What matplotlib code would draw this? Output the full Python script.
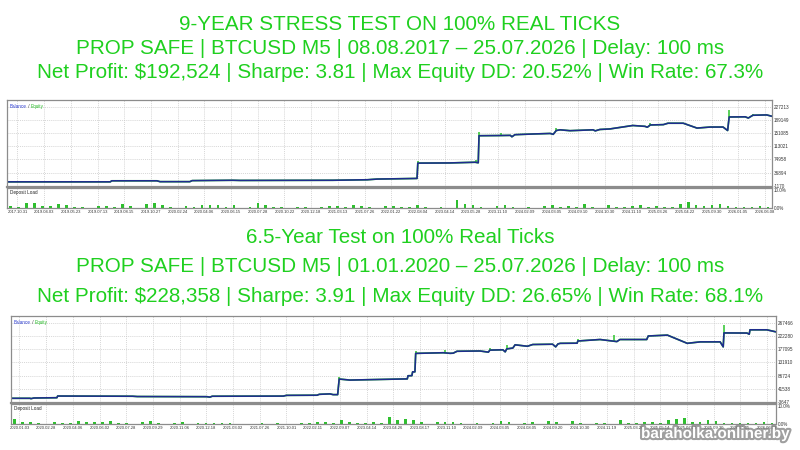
import numpy as np
import matplotlib.pyplot as plt
import matplotlib.patheffects as pe

plt.rcParams['font.family'] = ['Liberation Sans', 'DejaVu Sans']

TXT_GREEN = '#1fd01f'
BAL_C = '#1f2b8f'
EQ_C = '#2cc42c'
LOAD_C = '#2fbf2f'
GRID_C = '#c8c8c8'
FRAME_C = '#8c8c8c'

# ---------- 9-year test ----------
head1 = ["9-YEAR STRESS TEST ON 100% REAL TICKS",
         "PROP SAFE | BTCUSD M5 | 08.08.2017 \u2013 25.07.2026 | Delay: 100 ms",
         "Net Profit: $192,524 | Sharpe: 3.81 | Max Equity DD: 20.52% | Win Rate: 67.3%"]
prog1 = [0, 13.5, 13.7, 19.6, 20, 23.9, 24.2, 29.5, 30.5, 42.6, 47.1, 48.4, 51.4, 53.6, 53.7,
         57.9, 61.2, 61.6, 61.7, 64.4, 65.8, 66.0, 66.4, 68.8, 71.0, 71.4, 71.8, 72.3, 73.6,
         76.6, 76.9, 77.5, 78.8, 81.8, 83.4, 83.7, 84.1, 85.8, 86.4, 88.4, 90.2, 91.9, 93.6,
         94.2, 94.4, 96.5, 96.9, 97.5, 99.3, 100]
bal1 = [10000, 10000, 13000, 13000, 10500, 10500, 13500, 14500, 14000, 14500, 16000, 18000,
        19000, 19800, 64000, 64500, 66500, 65000, 143000, 143500, 144000, 140000, 146000,
        148000, 149500, 147000, 158000, 160000, 157500, 160000, 157000, 161000, 162500,
        172500, 170000, 167500, 174000, 175000, 179000, 179000, 165000, 168000, 168000,
        158000, 197000, 197500, 194000, 202000, 203000, 199000]
spike_x1 = [53.7, 61.3, 61.7, 64.6, 71.8, 78.8, 84.1, 94.4, 97.5]
spike_top1 = [70000, 72000, 155000, 150500, 165000, 166000, 181000, 216000, 205000]
load1 = [1.0, 0.3, 2.5, 2.8, 1.0, 0.8, 2.0, 1.5, 0.5, 0.3, 0.0, 1.0, 1.2, 0.2, 2.0, 1.0,
         0.0, 2.2, 2.5, 1.8, 0.3, 0.0, 1.0, 0.3, 1.8, 1.5, 1.6, 0.2, 1.5, 0.0, 0.3, 2.5,
         1.5, 0.5, 0.3, 0.0, 0.6, 0.5, 0.0, 0.4, 0.8, 0.7, 0.3, 1.5, 1.2, 0.3, 0.0, 1.0,
         1.2, 0.5, 0.4, 1.5, 0.2, 0.0, 0.5, 0.0, 4.5, 2.0, 1.8, 0.4, 0.0, 1.2, 1.5, 0.2,
         0.0, 0.5, 0.0, 1.2, 1.5, 0.3, 1.0, 0.2, 2.0, 0.5, 0.0, 1.5, 0.2, 0.6, 1.0, 1.8,
         0.3, 0.8, 0.5, 0.5, 2.2, 3.5, 1.5, 0.8, 1.5, 2.0, 1.0, 0.5, 0.4, 0.2, 0.8, 0.3]
yticks1 = [-1170, 36894, 74958, 113021, 151085, 189149, 227213]
dates1 = ["2017.10.31", "2019.04.03", "2019.05.23", "2019.07.13", "2019.08.15", "2019.10.27",
          "2020.02.24", "2020.04.06", "2020.06.15", "2020.07.28", "2020.10.22", "2020.12.18",
          "2021.03.13", "2021.07.26", "2022.01.22", "2022.08.04", "2023.04.14", "2023.05.28",
          "2023.11.10", "2024.02.09", "2024.03.05", "2024.09.10", "2024.10.30", "2024.11.10",
          "2025.03.26", "2025.04.22", "2025.09.30", "2026.01.05", "2026.06.08"]

# ---------- 6.5-year test ----------
head2 = ["6.5-Year Test on 100% Real Ticks",
         "PROP SAFE | BTCUSD M5 | 01.01.2020 \u2013 25.07.2026 | Delay: 100 ms",
         "Net Profit: $228,358 | Sharpe: 3.91 | Max Equity DD: 26.65% | Win Rate: 68.1%"]
prog2 = [0, 2.5, 2.6, 3.0, 6.0, 6.1, 15.9, 16.5, 25.6, 26.0, 26.3, 35.6, 36.0, 40.0, 40.3,
         41.7, 42.1, 42.7, 42.9, 44.3, 50.8, 51.8, 51.9, 52.4, 52.5, 52.8, 52.9, 56.5, 57.4,
         57.8, 58.3, 61.3, 62.4, 62.6, 64.3, 64.6, 64.8, 65.6, 65.9, 67.5, 68.2, 70.8, 71.2,
         71.5, 71.8, 74.0, 74.1, 77.0, 79.2, 79.6, 83.1, 83.3, 85.8, 88.4, 90.1, 92.7, 93.1,
         93.2, 96.2, 96.5, 96.6, 98.8, 100]
bal2 = [10000, 10000, 8800, 11000, 12000, 17700, 17000, 16000, 15500, 14000, 17000, 17500,
        20000, 20500, 23500, 25000, 22500, 22500, 75500, 72000, 75500, 76000, 86700, 87000,
        100000, 100000, 162800, 165000, 163000, 163500, 170000, 171000, 167000, 174000,
        175000, 168000, 178000, 181000, 192000, 187000, 193000, 194000, 185000, 195000,
        197000, 197500, 205000, 210000, 203000, 210000, 210000, 222000, 225000, 197000,
        202000, 202000, 185000, 232400, 232000, 228000, 243000, 243000, 236000]
spike_x2 = [42.9, 52.9, 56.7, 62.6, 64.8, 74.1, 78.8, 93.2]
spike_top2 = [81000, 172000, 175000, 180000, 190000, 212000, 225000, 258000]
load2 = [2.5, 1.0, 0.8, 0.3, 0.0, 0.8, 0.6, 0.4, 1.5, 0.8, 1.0, 0.7, 1.5, 0.2, 0.5, 0.0,
         0.8, 1.5, 0.6, 0.0, 0.2, 1.0, 0.0, 0.5, 0.3, 0.3, 0.2, 0.3, 0.0, 0.0, 0.0, 0.3,
         0.0, 0.3, 0.0, 0.0, 0.4, 0.6, 0.8, 1.0, 0.3, 2.0, 1.0, 0.2, 0.3, 1.2, 0.3, 4.0,
         2.0, 2.5, 2.2, 1.0, 0.0, 0.8, 1.2, 1.0, 0.4, 0.0, 0.3, 0.0, 0.2, 1.5, 1.0, 0.0,
         0.5, 1.2, 0.0, 1.5, 1.2, 0.0, 1.5, 0.5, 0.0, 0.6, 0.5, 0.0, 2.0, 0.4, 0.3, 1.0,
         0.8, 0.3, 2.0, 2.8, 3.0, 1.0, 0.8, 2.0, 1.8, 0.3, 0.5, 0.5, 0.3, 0.2, 0.8, 0.3]
yticks2 = [-3647, 41538, 86724, 131910, 177095, 222280, 267466]
dates2 = ["2020.01.03", "2020.02.28", "2020.04.06", "2020.06.02", "2020.07.28", "2020.09.29",
          "2020.11.06", "2020.12.18", "2021.03.02", "2021.07.26", "2021.10.01", "2022.02.11",
          "2022.09.07", "2023.04.14", "2023.04.26", "2023.08.17", "2023.11.10", "2024.02.09",
          "2024.03.05", "2024.08.05", "2024.09.20", "2024.10.30", "2024.11.19", "2025.03.26",
          "2025.05.14", "2025.07.10", "2025.09.30", "2026.01.05", "2026.06.08"]


def px(v):
    return v / 450.0


def draw_report(fig, left, top, width, prog, bal, sx, stop, load, yticks, ylim, dates, first):
    # main panel 87 px high, load panel 20 px
    ax = fig.add_axes([left / 800, 1 - px(top + 87), width / 800, px(87)])
    axl = fig.add_axes([left / 800, 1 - px(top + 108), width / 800, px(20)])
    xt = first + np.arange(len(dates)) * 3.49

    for a in (ax, axl):
        a.set_xlim(0, 100)
        a.set_xticks(xt)
        a.grid(True, axis='x', color=GRID_C, linestyle=(0, (1.5, 1.5)), linewidth=0.5)
        for s in a.spines.values():
            s.set_color(FRAME_C)
            s.set_linewidth(0.9)
        a.yaxis.tick_right()
        a.tick_params(length=0, labelsize=3.3, colors='#333333', pad=1.5)
        a.set_axisbelow(True)

    ax.set_ylim(*ylim)
    ax.set_yticks(yticks)
    ax.set_yticklabels([str(v) for v in yticks])
    ax.grid(True, axis='y', color=GRID_C, linestyle=(0, (1.5, 1.5)), linewidth=0.5)
    ax.set_xticklabels([])
    ax.spines['bottom'].set_linewidth(1.6)

    ax.plot(prog, bal, color=EQ_C, linewidth=1.2)
    base = np.interp(sx, prog, bal)
    ax.vlines(sx, base, stop, color=EQ_C, linewidth=1.1)
    ax.plot(prog, bal, color=BAL_C, linewidth=1.15)

    t = ax.text(0.004, 0.93, "Balance", transform=ax.transAxes, fontsize=3.3,
                color='#2b3bd0', va='center')
    t2 = ax.annotate(" / ", xycoords=t, xy=(1, 0), va='bottom', fontsize=3.3, color='#333333')
    ax.annotate("Equity", xycoords=t2, xy=(1, 0), va='bottom', fontsize=3.3, color='#22b822')

    pos = np.arange(len(load)) * 100.0 / len(load) + 0.5
    axl.bar(pos, load, width=0.35, color=LOAD_C)
    axl.set_ylim(-0.2, 11.3)
    axl.set_yticks([0, 10])
    axl.set_yticklabels(["0.0%", "10.0%"])
    axl.set_xticklabels(dates, fontsize=3.0)
    axl.text(0.004, 0.78, "Deposit Load", transform=axl.transAxes, fontsize=3.3,
             color='#222222', va='center')


fig = plt.figure(figsize=(8, 4.5), dpi=100)
fig.patch.set_facecolor('white')

for y, s in zip([25, 49, 73], head1):
    fig.text(0.5, 1 - px(y), s, ha='center', va='center', fontsize=14.9, color=TXT_GREEN)
for y, s in zip([238, 267, 296], head2):
    fig.text(0.5, 1 - px(y), s, ha='center', va='center', fontsize=14.9, color=TXT_GREEN)

draw_report(fig, 7, 100, 765, prog1, bal1, spike_x1, spike_top1, load1, yticks1,
            (-4900, 246000), dates1, 1.37)
draw_report(fig, 11, 316, 765, prog2, bal2, spike_x2, spike_top2, load2, yticks2,
            (-6000, 290000), dates2, 1.11)

fig.text(0.988, 1 - px(434), "baraholka.onliner.by", ha='right', va='center', fontsize=11,
         fontweight='bold', color='white',
         path_effects=[pe.withStroke(linewidth=3, foreground='#777777', alpha=0.7)])

fig.savefig('out.png', dpi=100)
